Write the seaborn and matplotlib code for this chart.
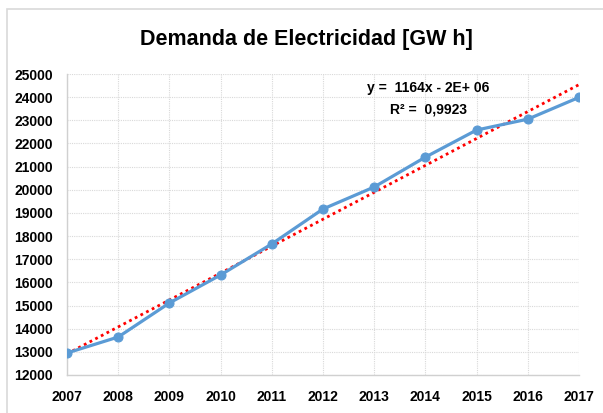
import numpy as np
import pandas as pd
import matplotlib
matplotlib.use("Agg")
import matplotlib.pyplot as plt
import seaborn as sns
from matplotlib.patches import Rectangle

years = [2007, 2008, 2009, 2010, 2011, 2012, 2013, 2014, 2015, 2016, 2017]
demand = [12950, 13640, 15110, 16320, 17660, 19170, 20120, 21410, 22580, 23050, 23990]
y_ticks = list(range(12000, 25001, 1000))
title = "Demanda de Electricidad [GW h]"
eq_text = "y =  1164x - 2E+ 06"
r2_text = "R² =  0,9923"

df = pd.DataFrame({"year": years, "demand": demand})

sns.set_theme(style="whitegrid")
plt.rcParams['font.family'] = ['Liberation Sans', 'DejaVu Sans']

fig = plt.figure(figsize=(6.03, 4.13), dpi=100)
fig.patch.set_facecolor("white")
fig.patches.append(Rectangle((7/603, -0.05), 1.0, 1 - 9/413 + 0.05,
                             transform=fig.transFigure, fill=False,
                             edgecolor="#d9d9d9", linewidth=1.2))

W, H = 603, 413
left, right, top, bottom = 67, 579, 74, 375
ax = fig.add_axes([left/W, 1 - bottom/H, (right-left)/W, (bottom-top)/H])
ax.set_facecolor("white")

# trend line (linear fit)
coef = np.polyfit(df["year"], df["demand"], 1)
trend = np.polyval(coef, df["year"])
ax.plot(df["year"], trend, linestyle=(0, (1, 1.3)), color="#ff0000", linewidth=2.0, zorder=3)

sns.lineplot(data=df, x="year", y="demand", ax=ax, color="#5b9bd5", linewidth=2.3,
             marker="o", markersize=6.5, markeredgecolor="#5b9bd5", zorder=4)

ax.set_xlim(2007, 2017)
ax.set_ylim(12000, 25000)
ax.set_xticks(years)
ax.set_xticklabels([str(y) for y in years], fontweight="bold", fontsize=10)
ax.set_yticks(y_ticks)
ax.set_yticklabels([str(v) for v in y_ticks], fontweight="bold", fontsize=10)
ax.tick_params(axis="x", pad=11, length=0, colors="black")
ax.tick_params(axis="y", pad=10, length=0, colors="black")
ax.set_xlabel("")
ax.set_ylabel("")
ax.grid(True, color="#d9d9d9", linestyle=(0, (1, 1)), linewidth=0.8)
for s in ["top", "right"]:
    ax.spines[s].set_visible(False)
for s in ["left", "bottom"]:
    ax.spines[s].set_color("#d0d0d0")
    ax.spines[s].set_linewidth(1.0)

fig.text(306/W, 1 - 40/H, title, ha="center", va="center", fontsize=15.5,
         fontweight="bold", color="black")
fig.text(428/W, 1 - 88/H, eq_text, ha="center", va="center", fontsize=10,
         fontweight="bold", color="black")
fig.text(428/W, 1 - 109/H, r2_text, ha="center", va="center", fontsize=10,
         fontweight="bold", color="black")

fig.savefig("out.png", dpi=100, facecolor="white")
